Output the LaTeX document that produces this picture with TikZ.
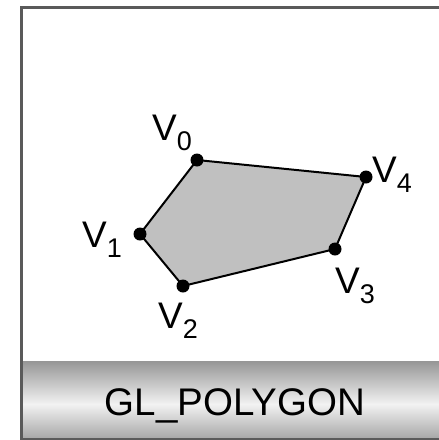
\documentclass[tikz,border=0pt]{standalone}
\usepackage{fontspec}
\setmainfont{Liberation Sans}
\usepackage{tikz}
\usetikzlibrary{positioning}
\definecolor{framegray}{RGB}{90,90,90}
\definecolor{polygray}{RGB}{192,192,192}
\definecolor{bartop}{RGB}{150,150,150}
\definecolor{barmid}{RGB}{242,242,242}
\definecolor{barlow}{RGB}{168,168,168}
\pgfdeclareverticalshading{barshade}{100bp}{color(0bp)=(barlow); color(25bp)=(barlow); color(47bp)=(barmid); color(75bp)=(bartop); color(100bp)=(bartop)}
\newcommand{\vname}[1]{{\fontsize{37}{40}\selectfont V\raisebox{-10pt}{\fontsize{27}{30}\selectfont #1}}}
\tikzset{
  framebox/.style={draw=framegray, line width=3pt},
  titlebar/.style={shading=barshade},
  polyface/.style={fill=polygray, draw=black, line width=2pt, line join=round},
  vertexdot/.style={fill=black},
  vlabel/.style={inner sep=0pt, anchor=base west},
  bartext/.style={inner sep=0pt, anchor=base, font=\fontsize{38.5}{42}\selectfont}
}

\begin{document}
\begin{tikzpicture}[x=1pt, y=-1pt]
  \useasboundingbox (0,0) rectangle (439,440);
  \clip (0,0) rectangle (439,440);
  % frame and title bar
  \path[titlebar] (23,361) rectangle (445,438);
  \draw[framebox] (21.5,7) rectangle (445,439);
  \node[bartext] (title) at (235,415) {GL\_POLYGON};
  % vertices
  \coordinate (v0) at (197,160);
  \coordinate (v1) at (140,234);
  \coordinate (v2) at (183,286);
  \coordinate (v3) at (335,249);
  \coordinate (v4) at (366,177);
  \filldraw[polyface] (v0) -- (v1) -- (v2) -- (v3) -- (v4) -- cycle;
  \foreach \v in {v0,v1,v2,v3,v4}
    \fill[vertexdot] (\v) circle (6.5pt);
  % labels
  \node[vlabel] (l0) at (152,140) {\vname{0}};
  \node[vlabel] (l1) at (82,247) {\vname{1}};
  \node[vlabel] (l2) at (158,328) {\vname{2}};
  \node[vlabel] (l3) at (335,293) {\vname{3}};
  \node[vlabel] (l4) at (372,182) {\vname{4}};
\end{tikzpicture}
\end{document}
